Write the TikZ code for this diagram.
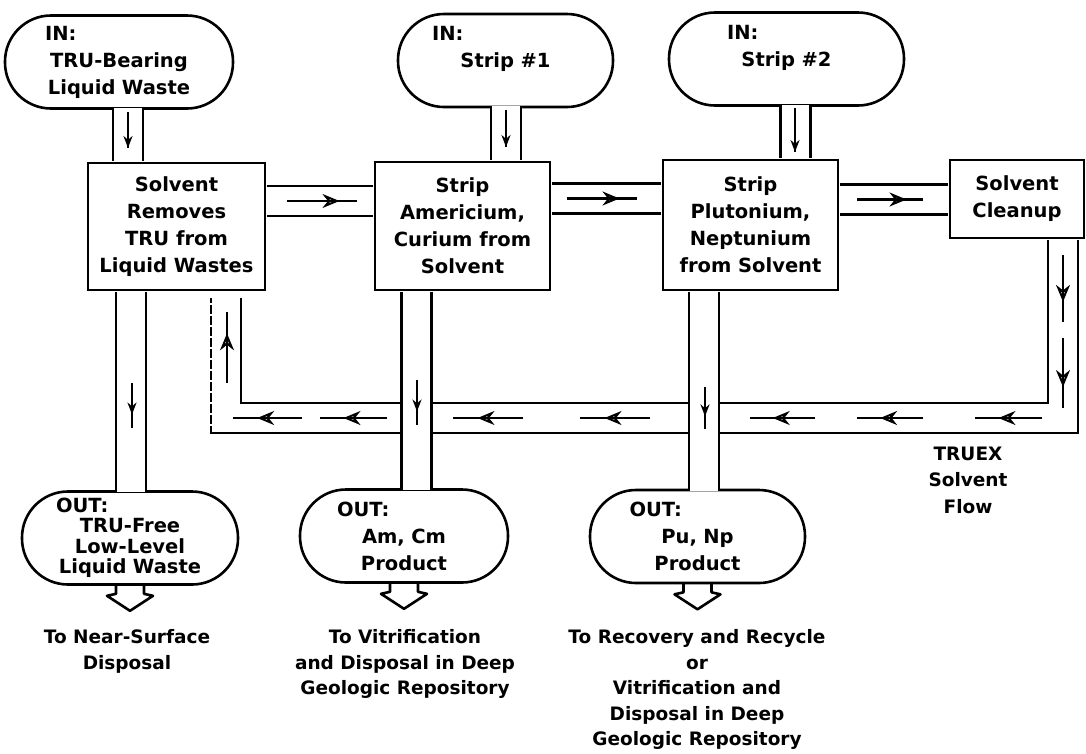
\documentclass[tikz,border=0pt]{standalone}
\usepackage{fontspec}
\setmainfont{DejaVu Sans}
\usetikzlibrary{calc,arrows.meta,decorations.markings}
\tikzset{
  proc/.style   = {draw, fill=white, line width=2.6pt, align=center, inner sep=0pt},
  stream/.style = {draw, fill=white, line width=2.6pt, rounded corners=46pt,
                   align=center, minimum height=93pt, inner sep=0pt},
  dest/.style   = {align=center, inner sep=0pt,
                   font=\fontsize{18.5}{25.5}\selectfont\bfseries},
  pipe/.style   = {line width=2.6pt, double=white, double distance=27.4pt},
  drop/.style   = {line width=2.6pt, line join=round},
  flow/.style   = {line width=2.4pt, postaction=decorate,
                   decoration={markings, mark=at position #1 with
                     {\arrow{Stealth[open,length=17pt,width=14pt,line width=2pt]}}}},
  flow/.default = 0.7,
  drip/.style   = {line width=2.4pt, postaction=decorate,
                   decoration={markings, mark=at position #1 with
                     {\arrow{Stealth[length=12pt,width=9pt]}}}},
  drip/.default = 1,
}
\newcommand{\headword}[1]{#1\hskip 0pt plus 1filll\null}
\newcommand{\outflow}[1]{%
  \draw[drop] ($(#1.south)+(-14,-1)$) -- ++(0,9) -- ++(-9,2)
    -- ($(#1.south)+(0,25)$) -- ($(#1.south)+(23,10)$) -- ++(-9,-2) -- ++(0,-9);}

\begin{document}
\begin{tikzpicture}[x=1pt, y=-1pt, font=\fontsize{19.5}{27}\selectfont\bfseries]
\useasboundingbox (0,0) rectangle (1086,753);

\node[stream, minimum width=228pt, text width=148pt] (in1) at (119,62)
  {\headword{IN:}\\ TRU-Bearing\\ Liquid Waste};
\node[stream, minimum width=215pt, text width=147pt] (in2) at (505.5,60.5)
  {\headword{IN:}\\ Strip \#1\\ \mbox{}};
\node[stream, minimum width=235pt, text width=119pt] (in3) at (786.5,59)
  {\headword{IN:}\\ Strip \#2\\ \mbox{}};

\node[proc, minimum width=177pt, minimum height=127pt] (sep) at (176.5,226.5)
  {Solvent\\ Removes\\ TRU from\\ Liquid Wastes};
\node[proc, minimum width=175pt, minimum height=128pt] (am) at (462.5,226)
  {Strip\\ Americium,\\ Curium from\\ Solvent};
\node[proc, minimum width=175pt, minimum height=130pt] (pu) at (750.5,225)
  {Strip\\ Plutonium,\\ Neptunium\\ from Solvent};
\node[proc, minimum width=134pt, minimum height=78pt] (clean) at (1017,199)
  {Solvent\\ Cleanup};

\node[stream, minimum width=216pt, text width=148pt,
      font=\fontsize{19.5}{20.5}\selectfont\bfseries] (out1) at (130,538)
  {\headword{OUT:}\\ TRU-Free\\ Low-Level\\ Liquid Waste};
\node[stream, minimum width=208pt, text width=134pt] (out2) at (404,536)
  {\headword{OUT:}\\ Am, Cm\\ Product};
\node[stream, minimum width=215pt, text width=136pt] (out3) at (697.5,536.5)
  {\headword{OUT:}\\ Pu, Np\\ Product};

\node[dest] (dest1) at (127,651.5) {To Near-Surface\\ Disposal};
\node[dest] (dest2) at (405,664) {To Vitrification\\ and Disposal in Deep\\ Geologic Repository};
\node[dest] (dest3) at (697,689.5) {To Recovery and Recycle\\ or\\ Vitrification and\\ Disposal in Deep\\ Geologic Repository};
\node[dest, font=\fontsize{18.5}{26.5}\selectfont\bfseries] (truex) at (968,480) {TRUEX\\ Solvent\\ Flow};

\coordinate (p1) at (128,0);
\coordinate (p2) at (506,0);
\coordinate (p3) at (795.5,0);
\coordinate (q1) at (131,0);
\coordinate (q2) at (416.5,0);
\coordinate (q3) at (704,0);
\coordinate (h1) at (0,201);
\coordinate (h2) at (0,198.5);
\coordinate (h3) at (0,199.5);
\coordinate (rc) at (1063,418);
\coordinate (lc) at (226,418);

\draw[pipe, shorten <=-2pt, shorten >=0.4pt] (in1.south -| p1) -- (sep.north -| p1);
\draw[pipe, shorten <=-2pt, shorten >=0.4pt] (in2.south -| p2) -- (am.north -| p2);
\draw[pipe, shorten <=-2pt, shorten >=0.4pt] (in3.south -| p3) -- (pu.north -| p3);
\draw[pipe, shorten <=0.4pt, shorten >=0.4pt] (sep.east |- h1) -- (am.west |- h1);
\draw[pipe, shorten <=0.4pt, shorten >=0.4pt] (am.east |- h2) -- (pu.west |- h2);
\draw[pipe, shorten <=0.4pt, shorten >=0.4pt] (pu.east |- h3) -- (clean.west |- h3);
\draw[pipe, shorten <=0.4pt, shorten >=7pt] (clean.south -| rc) -- (rc) -- (lc) -- (sep.south -| lc);
\draw[white, line width=3.4pt, dash pattern=on 2pt off 9pt]
  ($(sep.south -| lc)+(-15,12)$) -- ($(lc)+(-15,10)$);
\draw[pipe, shorten <=0.4pt, shorten >=-2pt] (sep.south -| q1) -- (out1.north -| q1);
\draw[pipe, shorten <=0.4pt, shorten >=-2pt] (am.south -| q2) -- (out2.north -| q2);
\draw[pipe, shorten <=0.4pt, shorten >=-2pt] (pu.south -| q3) -- (out3.north -| q3);

\outflow{out1}
\outflow{out2}
\outflow{out3}

\draw[drip] (128,112) -- (128,148);
\draw[drip] (506,110) -- (506,147);
\draw[drip] (795,108) -- (795,152);
\draw[drip=0.7] (132,383) -- (132,428);
\draw[drip=0.7] (417,380) -- (417,425);
\draw[drip=0.7] (705,387) -- (705,429);

\draw[flow=0.75] (287,201) -- (357,201);
\draw[flow=0.75] (567,198.5) -- (637,198.5);
\draw[flow=0.75] (857,199.5) -- (923,199.5);
\foreach \a/\b in {255/322, 338/408}
  \draw[flow] (1063,\a) -- (1063,\b);
\foreach \a/\b in {1042/975, 923/857, 815/750, 650/580, 523/453, 387/320, 302/233}
  \draw[flow=0.65] (\a,418) -- (\b,418);
\draw[flow] (227,383) -- (227,312);
\end{tikzpicture}
\end{document}
